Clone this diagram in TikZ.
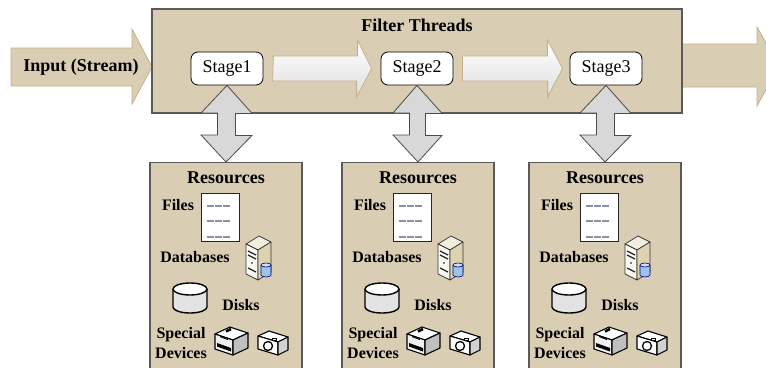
\documentclass[tikz,border=0pt]{standalone}
\usepackage{fontspec}
\setmainfont{Liberation Serif}
\usetikzlibrary{positioning, arrows, shapes}
\definecolor{threadtan}{HTML}{D9CEB4}
\definecolor{arrowtan}{HTML}{C4AF88}
\definecolor{boxgray}{HTML}{5A5A5A}
\definecolor{dblgray}{HTML}{D8D8D8}
\definecolor{servbeige}{HTML}{DDD3B0}
\definecolor{dbblue}{HTML}{9DC3E6}
\definecolor{dashgray}{HTML}{8C90A6}
\tikzstyle{tanbox} = [rectangle, draw=boxgray, fill=threadtan, line width=1.2pt]
\tikzstyle{stagebox} = [rectangle, draw=black, fill=white, rounded corners=7pt, 
minimum width=72pt, minimum height=33pt, line width=0.8pt, font=\fontsize{18}{20}\selectfont]
\tikzstyle{headtext} = [font=\bfseries\fontsize{18}{20}\selectfont]
\tikzstyle{itemtext} = [font=\bfseries\fontsize{16}{20}\selectfont, align=center]
\tikzstyle{flowarrow} = [draw=arrowtan, top color=white, bottom color=gray!25, line width=0.8pt]
\tikzstyle{bigarrow} = [draw=arrowtan, fill=threadtan, line width=0.8pt]
\tikzstyle{dblarrow} = [draw=gray!60!black, fill=dblgray, line width=0.8pt]
\tikzstyle{icon} = [draw=black, line width=1.1pt, line join=round]

% icons, local coordinates of a resources box
\newcommand{\fileicon}{%
  \draw[fill=white, draw=gray!30!black, line width=0.8pt] (51,31) rectangle (89,79);
  \foreach \yy in {44,59,75}
    \draw[dashgray, line width=2pt, dash pattern=on 7pt off 1.2pt] (57,\yy) -- (81,\yy);
}
\newcommand{\servericon}{%
  \draw[icon, line width=0.7pt, draw=gray!40!black, fill=white!60!servbeige] (96,82) -- (109,74) -- (121,80) -- (108,88) -- cycle;
  \draw[icon, line width=0.7pt, draw=gray!40!black, fill=white!85!servbeige] (96,82) -- (108,88) -- (108,118) -- (96,112) -- cycle;
  \draw[icon, line width=0.7pt, draw=gray!40!black, fill=servbeige] (108,88) -- (121,80) -- (121,110) -- (108,118) -- cycle;
  \draw[gray!30!black, line width=1.2pt] (98,89) -- (106,93) (98,93) -- (106,97) (98,106) -- (106,110);
  \fill[black] (102,101) circle (0.9pt);
  \draw[draw=blue!50!black, fill=dbblue, line width=0.6pt] (111,103) -- (111,113) arc[start angle=180, end angle=360, x radius=5pt, y radius=2pt] -- (121,103);
  \draw[draw=blue!50!black, fill=white!50!dbblue, line width=0.6pt] (116,103) ellipse [x radius=5pt, y radius=2pt];
}
\newcommand{\diskicon}{%
  \draw[icon, line width=1.4pt, fill=gray!22] (23,127) -- (23,145) arc[start angle=180, end angle=360, x radius=17pt, y radius=6pt] -- (57,127);
  \draw[icon, line width=1.4pt, fill=white] (40,127) ellipse [x radius=17pt, y radius=6pt];
}
\newcommand{\printericon}{%
  \draw[icon, fill=white] (65,172) -- (80,165) -- (98,171) -- (83,178) -- cycle;
  \draw[icon, fill=gray!12] (65,172) -- (83,178) -- (83,193) -- (65,187) -- cycle;
  \draw[icon, fill=gray!50] (83,178) -- (98,171) -- (98,186) -- (83,193) -- cycle;
  \fill[black] (67,181) -- (81,186) -- (81,189.5) -- (67,184.5) -- cycle;
  \draw[black, line width=2.5pt] (76,169.5) -- (81,167);
  \draw[black, line width=1pt] (70,174.5) -- (78,177.5);
}
\newcommand{\cameraicon}{%
  \draw[icon, fill=white] (108,174) -- (119,169) -- (138,175) -- (128,180) -- cycle;
  \draw[icon, fill=white] (108,174) -- (128,180) -- (128,193) -- (108,187) -- cycle;
  \draw[icon, fill=gray!35] (128,180) -- (138,175) -- (138,188) -- (128,193) -- cycle;
  \draw[icon, line width=1.3pt] (118,184) ellipse [x radius=4.5pt, y radius=4.5pt];
  \draw[black, line width=1pt] (122,176) rectangle (126,178);
}

\begin{document}
\begin{tikzpicture}[x=1pt, y=-1pt, node distance=190pt]
\useasboundingbox (0,0) rectangle (766,367);
\clip (0,0) rectangle (766,367);

% input and output streams
\draw [bigarrow] (11,48) -- (132,48) -- (132,29) -- (152,67) -- (132,104) -- (132,86) -- (11,86) -- cycle;
\draw [bigarrow] (682,44) -- (757,44) -- (757,27) -- (779,66) -- (757,106) -- (757,87) -- (682,87) -- cycle;
\node (input) [headtext] at (81,67) {Input (Stream)};

% filter threads
\node (threads) [tanbox, minimum width=530pt, minimum height=104pt] at (417,61) {};
\node (threadtitle) [headtext] at (417,25) {Filter Threads};
\node (stage1) [stagebox] at (227,68.5) {Stage1};
\node (stage2) [stagebox, right of=stage1] {Stage2};
\node (stage3) [stagebox, right of=stage2, xshift=-1pt] {Stage3};

\draw [flowarrow] (stage1.east) ++(10,-12.5) -- ++(84,0) -- ++(0,-16) -- ([xshift=-9pt]stage2.west)
      -- ++(-15,28.5) -- ++(0,-16) -- ++(-84,0) -- cycle;
\draw [flowarrow] (stage2.east) ++(9,-12.5) -- ++(85,0) -- ++(0,-16) -- ([xshift=-7pt]stage3.west)
      -- ++(-15,28.5) -- ++(0,-16) -- ++(-85,0) -- cycle;

% resources
\foreach \n/\x in {1/150,2/342,3/529}{
  \begin{scope}[shift={(\x,162)}]
    \node (res\n) [tanbox, minimum width=152pt, minimum height=214pt, anchor=north] at (76,0) {};
    \node (restitle\n) [headtext] at (76,16) {Resources};
    \node (files\n) [itemtext] at (28,43) {Files};
    \node (databases\n) [itemtext] at (45,95) {Databases};
    \node (disks\n) [itemtext] at (91,143) {Disks};
    \node (devices\n) [itemtext] at (31,181) {Special\\Devices};
    \fileicon
    \servericon
    \diskicon
    \printericon
    \cameraicon
  \end{scope}
}

\foreach \n in {1,2,3}
  \draw [dblarrow] (res\n.north) -- ++(-25,-27) -- ++(16.5,0) -- ++(0,-22) -- ++(-16.5,0) -- (stage\n.south)
        -- ++(25,28) -- ++(-16.5,0) -- ++(0,22) -- ++(16.5,0) -- cycle;
\end{tikzpicture}
\end{document}
